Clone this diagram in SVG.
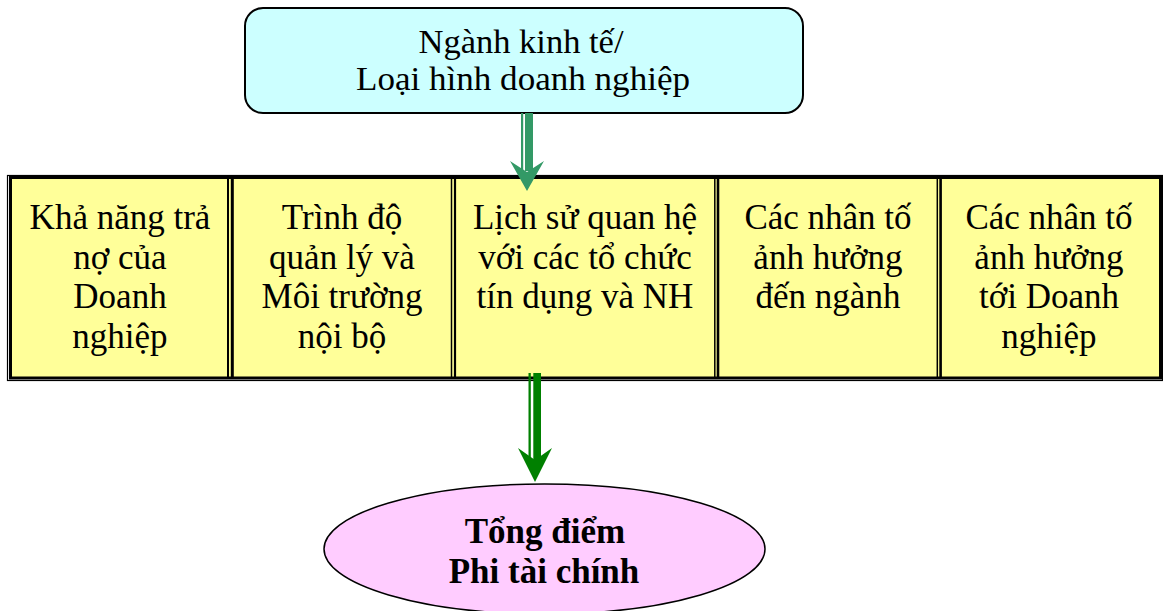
<svg xmlns="http://www.w3.org/2000/svg" width="1163" height="611" viewBox="0 0 1163 611">
<style>
text{font-family:"Liberation Serif","Times New Roman",serif;font-size:35px;fill:#000;text-anchor:middle}
.t{font-size:33px}
.b{font-weight:bold}
</style>
<rect width="1163" height="611" fill="#fff"/>
<g id="top-node">
<rect x="245" y="8" width="558" height="105" rx="18" ry="18" fill="#CCFFFF" stroke="#000" stroke-width="2"/>
<text class="t" x="521" y="53" textLength="205" lengthAdjust="spacingAndGlyphs">Ngành kinh tế/</text>
<text class="t" x="523" y="90" textLength="334" lengthAdjust="spacingAndGlyphs">Loại hình doanh nghiệp</text>
</g>
<g id="table">
<rect x="7.5" y="175.5" width="1155" height="205" fill="none" stroke="#000" stroke-width="1.2"/>
<rect x="10.5" y="177.5" width="1150" height="200.5" fill="#FFFF99" stroke="#000" stroke-width="3"/>
<g stroke="#000">
<line x1="228" y1="177" x2="228" y2="378" stroke-width="2"/>
<line x1="232.3" y1="177" x2="232.3" y2="378" stroke-width="3"/>
<line x1="451.5" y1="177" x2="451.5" y2="378" stroke-width="1.5"/>
<line x1="455" y1="177" x2="455" y2="378" stroke-width="2.2"/>
<line x1="714.8" y1="177" x2="714.8" y2="378" stroke-width="1.5"/>
<line x1="718" y1="177" x2="718" y2="378" stroke-width="2.6"/>
<line x1="937.3" y1="177" x2="937.3" y2="378" stroke-width="1.5"/>
<line x1="940.6" y1="177" x2="940.6" y2="378" stroke-width="2.6"/>
</g>
</g>
<g id="cell1">
<text x="120" y="229">Khả năng trả</text>
<text x="120" y="269">nợ của</text>
<text x="120" y="308">Doanh</text>
<text x="120" y="348">nghiệp</text>
</g>
<g id="cell2">
<text x="342" y="229">Trình độ</text>
<text x="342" y="269">quản lý và</text>
<text x="342" y="308">Môi trường</text>
<text x="342" y="348">nội bộ</text>
</g>
<g id="cell3">
<text x="585" y="229">Lịch sử quan hệ</text>
<text x="585" y="269">với các tổ chức</text>
<text x="585" y="308">tín dụng và NH</text>
</g>
<g id="cell4">
<text x="828" y="229">Các nhân tố</text>
<text x="828" y="269">ảnh hưởng</text>
<text x="828" y="308">đến ngành</text>
</g>
<g id="cell5">
<text x="1049" y="229">Các nhân tố</text>
<text x="1049" y="269">ảnh hưởng</text>
<text x="1049" y="308">tới Doanh</text>
<text x="1049" y="348">nghiệp</text>
</g>
<g id="result-node">
<ellipse cx="544.5" cy="549" rx="220.5" ry="65" fill="#FFCCFF" stroke="#000" stroke-width="1.5"/>
<text class="b" x="545" y="543">Tổng điểm</text>
<text class="b" x="544" y="583">Phi tài chính</text>
</g>
<g id="connectors">
<g fill="#339966">
<rect x="521" y="113" width="2.2" height="58"/>
<rect x="525" y="113" width="8" height="58"/>
<polygon points="510,161 527,172 544,161 527,191"/>
</g>
<g fill="#008000">
<rect x="528.5" y="373" width="2.3" height="88"/>
<rect x="533.3" y="373" width="7.7" height="88"/>
<polygon points="518,448 535,460 552,448 535,482"/>
</g>
</g>
</svg>
